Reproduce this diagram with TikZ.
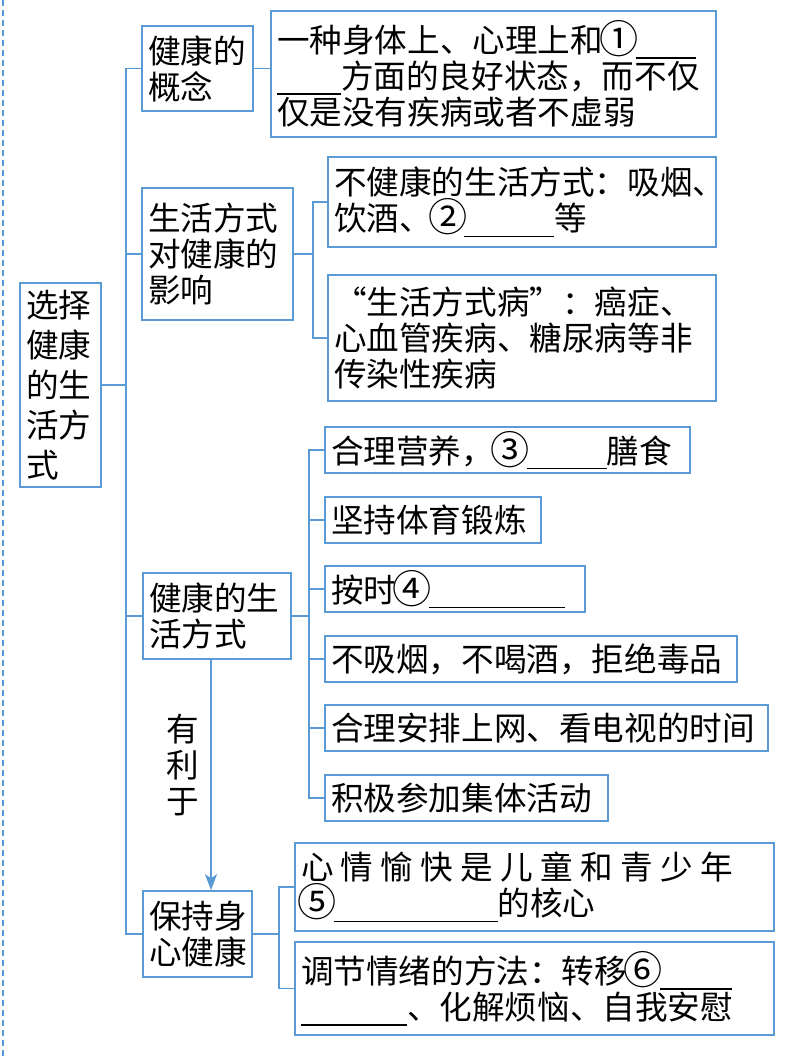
\documentclass[tikz,border=0pt]{standalone}
\usepackage{fontspec}
\setmainfont{Noto Sans CJK SC}
\usetikzlibrary{arrows.meta}
\definecolor{colLINE}{RGB}{91,155,213}
\newcommand{\blank}[1]{\rule[-3pt]{#1}{0.6pt}}
\newcommand{\cnum}[1]{\makebox[1em]{\raisebox{-0.5pt}{\scalebox{1.2}{#1}}}}

\begin{document}
\begin{tikzpicture}[x=0.5pt, y=-0.5pt,
    every node/.style={font=\fontsize{16.3}{18}\selectfont},
    box/.style={draw=colLINE, line width=0.8pt, align=left, inner xsep=3pt, inner ysep=2pt},
    link/.style={colLINE, line width=0.8pt}]
  \useasboundingbox (0,0) rectangle (791,1060);
  \draw[colLINE, densely dashed, line width=0.6pt] (3,0) -- (3,1060);
  % --- root ---
  \node[box, text width=34.5pt, minimum height=102pt, font=\fontsize{16.3}{20}\selectfont] (root) at (60.5,385) {选择\\健康\\的生\\活方\\式};
  % --- level 1 ---
  \node[box, text width=49.5pt, minimum height=42.5pt] (concept) at (197.5,68.5) {健康的\\概念};
  \node[box, text width=69.5pt, minimum height=66pt] (impact) at (217.5,254) {生活方式\\对健康的\\影响};
  \node[box, text width=68pt, minimum height=43pt] (healthy) at (217,616) {健康的生\\活方式};
  \node[box, text width=48.5pt, minimum height=43pt] (keep) at (197.5,934) {保持身\\心健康};
  % --- concept ---
  \node[box, text width=216.5pt, minimum height=63pt] (def) at (493.5,74) {一种身体上、心理上和\cnum{①}\blank{30pt}\\\blank{32pt}方面的良好状态，而不仅\\仅是没有疾病或者不虚弱};
  % --- impact ---
  \node[box, text width=188pt, minimum height=45pt] (bad) at (522,202) {不健康的生活方式：吸烟、\\饮酒、\cnum{②}\blank{45pt}等};
  \node[box, text width=188pt, minimum height=63pt] (disease) at (522,338) {“生活方式病”：癌症、\\心血管疾病、糖尿病等非\\传染性疾病};
  % --- healthy lifestyle ---
  \node[box, text width=176.5pt, minimum height=23pt] (diet) at (507.5,450) {合理营养，\cnum{③}\blank{40pt}膳食};
  \node[box, text width=102pt, minimum height=23pt] (sport) at (433,520) {坚持体育锻炼};
  \node[box, text width=124pt, minimum height=23pt] (sleep) at (455,589) {按时\cnum{④}\blank{68pt}};
  \node[box, text width=200pt, minimum height=23pt] (nodrug) at (531,659) {不吸烟，不喝酒，拒绝毒品};
  \node[box, text width=215.5pt, minimum height=23pt] (screen) at (546.5,728) {合理安排上网、看电视的时间};
  \node[box, text width=135.5pt, minimum height=23pt] (group) at (466.5,798) {积极参加集体活动};
  % --- keep healthy ---
  \node[box, text width=233.5pt, minimum height=44pt] (mood) at (534.5,887) {\makebox[216pt][s]{心\hfill 情\hfill 愉\hfill 快\hfill 是\hfill 儿\hfill 童\hfill 和\hfill 青\hfill 少\hfill 年}\\\cnum{⑤}\blank{82pt}的核心};
  \node[box, text width=233.5pt, minimum height=46.5pt] (adjust) at (534.5,988.5) {调节情绪的方法：转移\cnum{⑥}\blank{36pt}\\\blank{53pt}、化解烦恼、自我安慰};
  \node[align=center] (benefit) at (183,765) {有\\利\\于};
  % --- connectors ---
  \foreach \n in {concept,impact,healthy,keep}
    \draw[link] (root.east) -- ++(24,0) |- (\n.west);
  \draw[link] (concept.east) -- (concept.east -| def.west);
  \foreach \n in {bad,disease}
    \draw[link] (impact.east) -- ++(19,0) |- (\n.west);
  \foreach \n in {diet,sport,sleep,nodrug,screen,group}
    \draw[link] (healthy.east) -- ++(17,0) |- (\n.west);
  \foreach \n in {mood,adjust}
    \draw[link] (keep.east) -- ++(26,0) |- (\n.west);
  \draw[link, -{Stealth[length=8pt, width=6pt, inset=2pt]}] ([xshift=-3pt]healthy.south) -- ([xshift=-3pt]healthy.south |- keep.north);
\end{tikzpicture}
\end{document}
